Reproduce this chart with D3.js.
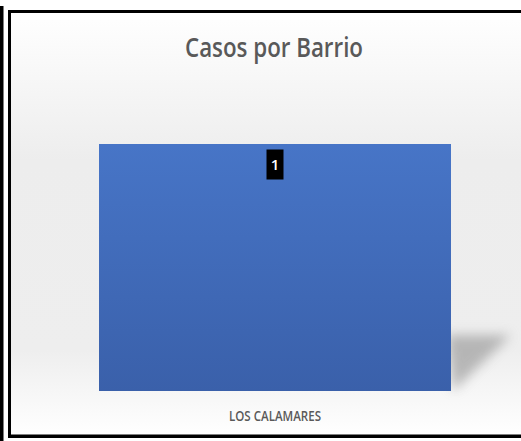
<!DOCTYPE html>
<html><head><meta charset="utf-8">
<script src="https://cdn.jsdelivr.net/npm/d3@7"></script>
<style>html,body{margin:0;padding:0;background:#fff;}svg{display:block;}</style>
</head><body>
<svg id="chart" width="521" height="441"></svg>
<script>
const categories = ["LOS CALAMARES"];
const values = [1];
const title = "Casos por Barrio";

const svg = d3.select("#chart");
const defs = svg.append("defs");

const bg = defs.append("linearGradient").attr("id","bg").attr("x1",0).attr("y1",0).attr("x2",0).attr("y2",1);
bg.append("stop").attr("offset","0%").attr("stop-color","#ffffff");
bg.append("stop").attr("offset","35%").attr("stop-color","#ededed");
bg.append("stop").attr("offset","80%").attr("stop-color","#eeeeee");
bg.append("stop").attr("offset","100%").attr("stop-color","#ffffff");

const barG = defs.append("linearGradient").attr("id","barg").attr("x1",0).attr("y1",0).attr("x2",0).attr("y2",1);
barG.append("stop").attr("offset","0%").attr("stop-color","#4775c7");
barG.append("stop").attr("offset","100%").attr("stop-color","#3a60aa");

const blur = defs.append("filter").attr("id","blur").attr("x","-50%").attr("y","-50%").attr("width","200%").attr("height","200%");
blur.append("feGaussianBlur").attr("stdDeviation",6);

// frame background
svg.append("rect").attr("x",10).attr("y",12).attr("width",511).attr("height",423).attr("fill","url(#bg)");

// frame lines
svg.append("rect").attr("x",0).attr("y",6).attr("width",3.5).attr("height",435).attr("fill","#000");
svg.append("rect").attr("x",8).attr("y",10).attr("width",513).attr("height",3).attr("fill","#000");
svg.append("rect").attr("x",8).attr("y",10).attr("width",3).attr("height",428).attr("fill","#000");
svg.append("rect").attr("x",8).attr("y",434.5).attr("width",513).attr("height",3.5).attr("fill","#000");

// scales
const x = d3.scaleBand().domain(categories).range([99, 451]).padding(0);
const y = d3.scaleLinear().domain([0, 1]).range([391, 144]);

// shadow
categories.forEach((c,i)=>{
  const x1 = x(c)+x.bandwidth();
  const yb = y(0);
  svg.append("path")
    .attr("d", `M${x1-4},${yb-56} L${x1+60},${yb-56} L${x1+2},${yb} Z`)
    .attr("fill","#909090").attr("opacity",0.6).attr("filter","url(#blur)");
});

// bars
svg.selectAll("rect.bar").data(categories).join("rect").attr("class","bar")
  .attr("x", d=>x(d)).attr("width", x.bandwidth())
  .attr("y", (d,i)=>y(values[i])).attr("height",(d,i)=>y(0)-y(values[i]))
  .attr("fill","url(#barg)");

// data labels
categories.forEach((c,i)=>{
  const cx = x(c)+x.bandwidth()/2;
  const top = y(values[i]);
  svg.append("rect").attr("x",cx-8.5).attr("y",top+5.5).attr("width",17).attr("height",30).attr("fill","#000");
  svg.append("text").attr("x",cx).attr("y",top+26).attr("text-anchor","middle")
    .attr("font-family","'Open Sans', sans-serif").attr("font-weight",600).attr("font-size",15)
    .attr("fill","#fff").text(values[i]);
});

// x axis labels
const xAxis = d3.axisBottom(x).tickSize(0).tickPadding(0);
const ax = svg.append("g").attr("transform",`translate(0,${y(0)})`).call(xAxis);
ax.select(".domain").remove();
ax.selectAll("text").attr("y",30).attr("dy",0)
  .attr("font-family","'Open Sans', sans-serif").attr("font-weight",600).attr("font-size",14)
  .attr("fill","#595959").attr("textLength",92).attr("lengthAdjust","spacingAndGlyphs");

// title
svg.append("text").attr("x",274).attr("y",57).attr("text-anchor","middle")
  .attr("font-family","'Open Sans', sans-serif").attr("font-weight",600).attr("font-size",27)
  .attr("fill","#595959").attr("textLength",178).attr("lengthAdjust","spacingAndGlyphs").text(title);
</script>
</body></html>
